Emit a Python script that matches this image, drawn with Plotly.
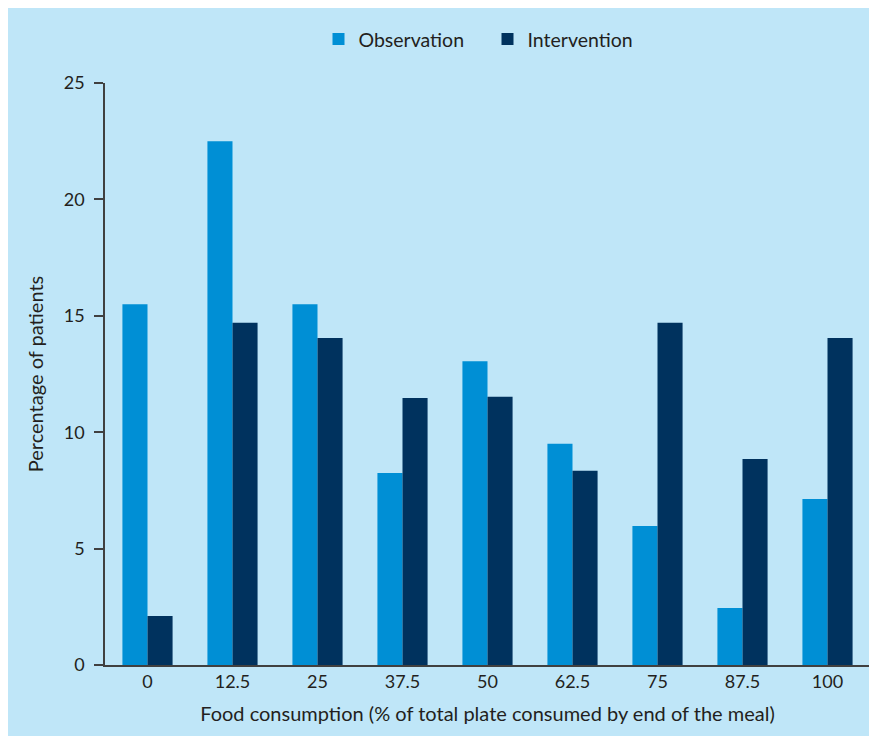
import plotly.graph_objects as go

categories = ["0", "12.5", "25", "37.5", "50", "62.5", "75", "87.5", "100"]
observation = [15.5, 22.5, 15.5, 8.25, 13.05, 9.5, 5.97, 2.45, 7.13]
intervention = [2.11, 14.7, 14.05, 11.47, 11.52, 8.34, 14.7, 8.85, 14.05]

bg = "#bfe6f8"
txt = "#231f20"
font = "Lato, Open Sans, sans-serif"

fig = go.Figure()
fig.add_trace(go.Bar(x=categories, y=observation, name="Observation",
                     marker=dict(color="#008fd5", line=dict(width=0))))
fig.add_trace(go.Bar(x=categories, y=intervention, name="Intervention",
                     marker=dict(color="#00325e", line=dict(width=0))))

fig.update_layout(
    width=877, height=736,
    paper_bgcolor=bg, plot_bgcolor=bg,
    margin=dict(l=97, r=15, t=75, b=79),
    barmode="group", bargap=0.41, bargroupgap=0,
    font=dict(family=font, size=18, color=txt),
    legend=dict(orientation="h", x=0.5, xanchor="center", y=1.075, yanchor="middle",
                font=dict(size=19.5), bgcolor="rgba(0,0,0,0)",
                entrywidth=124, entrywidthmode="pixels",
                tracegroupgap=0),
    showlegend=True,
)
fig.update_xaxes(
    type="category", showgrid=False, showline=True, linecolor="#404040", linewidth=1.5,
    ticks="", tickfont=dict(size=18, color=txt),
    title=dict(text="Food consumption (% of total plate consumed by end of the meal)",
               font=dict(size=20, color=txt), standoff=16),
)
fig.update_yaxes(
    range=[0, 25], dtick=5, showgrid=False, zeroline=False,
    showline=True, linecolor="#404040", linewidth=1.5,
    ticks="outside", ticklen=9, tickcolor="#404040", tickwidth=1.5,
    ticklabelstandoff=6,
    tickfont=dict(size=18, color=txt),
    title=dict(text="Percentage of patients", font=dict(size=20, color=txt), standoff=15),
)

fig.write_html("out.html")
